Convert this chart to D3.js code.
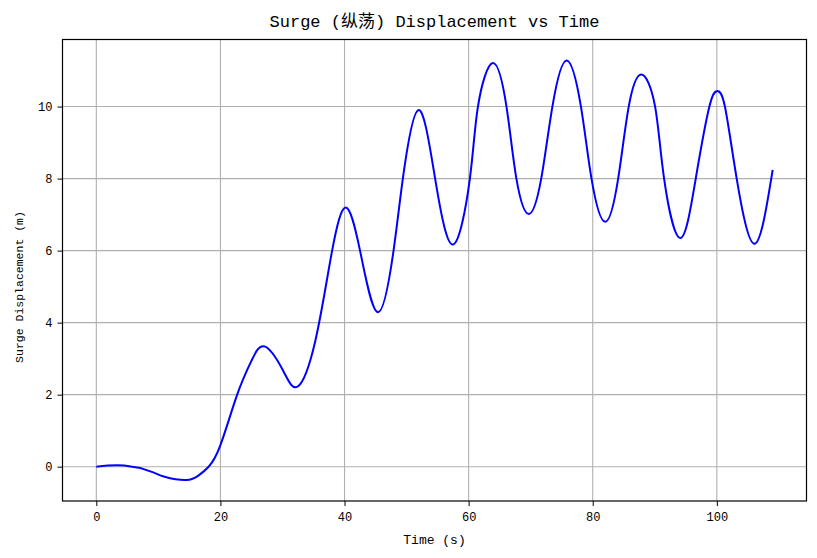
<!DOCTYPE html>
<html>
<head>
<meta charset="utf-8">
<script src="https://cdn.jsdelivr.net/npm/d3@7"></script>
<style>
  body { margin: 0; background: #fff; }
  text { font-family: "Liberation Mono", "Noto Sans CJK SC", monospace; fill: #000; }
</style>
</head>
<body>
<svg id="chart" width="817" height="558"></svg>
<script>
// values (extrema and grid crossings)
const times = [0, 4.5, 8.7, 11, 14.5, 16.5, 18.1, 20, 22.7, 25, 27.1, 30, 32.4, 35.3, 38, 40.2,
  42.5, 45.4, 47.9, 49.4, 51.9, 54.6, 57.5, 60.2, 61.5, 63.9, 66.1, 67.7, 69.7,
  71.7, 73.5, 75.8, 78.1, 79.8, 82, 84.1, 85.8, 87.85, 90.05, 91.5, 94.1,
  96.6, 98.8, 100.1, 101.3, 103.2, 106.1, 109];
const surge = [0, 0.03, -0.13, -0.28, -0.37, -0.24, 0, 0.6, 2, 2.94, 3.34, 2.7, 2.22, 3.5, 6, 7.2,
  6, 4.29, 6, 8, 9.9, 8, 6.17, 8, 10, 11.21, 10, 8, 7.02,
  8, 10, 11.28, 10, 8, 6.8, 8, 10, 10.89, 10, 8, 6.35,
  8, 10, 10.43, 10, 8, 6.19, 8.24];
const xTicks = [0, 20, 40, 60, 80, 100];
const yTicks = [0, 2, 4, 6, 8, 10];

const data = times.map((t, i) => ({ t: t, v: surge[i] }));

const margin = { top: 39.5, right: 10.5, bottom: 57, left: 62.5 };
const width = 817, height = 558;

const svg = d3.select('#chart');

// matplotlib style 5% padding on both axes
const xExt = d3.extent(times), yExt = d3.extent(surge);
const xPad = (xExt[1] - xExt[0]) * 0.05, yPad = (yExt[1] - yExt[0]) * 0.05;

const x = d3.scaleLinear()
  .domain([xExt[0] - xPad, xExt[1] + xPad])
  .range([margin.left, width - margin.right]);

const y = d3.scaleLinear()
  .domain([yExt[0] - yPad, yExt[1] + yPad])
  .range([height - margin.bottom, margin.top]);

// grid
svg.append('g')
  .selectAll('line')
  .data(xTicks)
  .enter().append('line')
  .attr('x1', d => x(d)).attr('x2', d => x(d))
  .attr('y1', margin.top).attr('y2', height - margin.bottom)
  .attr('stroke', '#b0b0b0').attr('stroke-width', 1.1);

svg.append('g')
  .selectAll('line')
  .data(yTicks)
  .enter().append('line')
  .attr('x1', margin.left).attr('x2', width - margin.right)
  .attr('y1', d => y(d)).attr('y2', d => y(d))
  .attr('stroke', '#b0b0b0').attr('stroke-width', 1.1);

// the curve
const line = d3.line()
  .x(d => x(d.t))
  .y(d => y(d.v))
  .curve(d3.curveNatural);

svg.append('path')
  .datum(data)
  .attr('d', line)
  .attr('fill', 'none')
  .attr('stroke', '#0000ff')
  .attr('stroke-width', 2);

// axes
const xAxis = svg.append('g')
  .attr('transform', `translate(0,${height - margin.bottom})`)
  .call(d3.axisBottom(x).tickValues(xTicks).tickSize(5).tickPadding(6).tickSizeOuter(0));

const yAxis = svg.append('g')
  .attr('transform', `translate(${margin.left},0)`)
  .call(d3.axisLeft(y).tickValues(yTicks).tickSize(5).tickPadding(5).tickSizeOuter(0));

[xAxis, yAxis].forEach(a => {
  a.select('.domain').remove();
  a.selectAll('line').attr('stroke', '#000').attr('stroke-width', 1);
  a.selectAll('text').style('font-size', '12px').attr('fill', '#222');
});

// frame
svg.append('rect')
  .attr('x', margin.left).attr('y', margin.top)
  .attr('width', width - margin.left - margin.right)
  .attr('height', height - margin.top - margin.bottom)
  .attr('fill', 'none')
  .attr('stroke', '#000')
  .attr('stroke-width', 1.2);

// titles
svg.append('text')
  .attr('x', (margin.left + width - margin.right) / 2)
  .attr('y', 27)
  .attr('text-anchor', 'middle')
  .style('font-size', '17px')
  .text('Surge (纵荡) Displacement vs Time');

svg.append('text')
  .attr('x', (margin.left + width - margin.right) / 2)
  .attr('y', 544)
  .attr('text-anchor', 'middle')
  .style('font-size', '13px')
  .attr('fill', '#222')
  .text('Time (s)');

svg.append('text')
  .attr('transform', 'translate(23,287) rotate(-90)')
  .attr('text-anchor', 'middle')
  .style('font-size', '11.5px')
  .attr('fill', '#222')
  .text('Surge Displacement (m)');
</script>
</body>
</html>
